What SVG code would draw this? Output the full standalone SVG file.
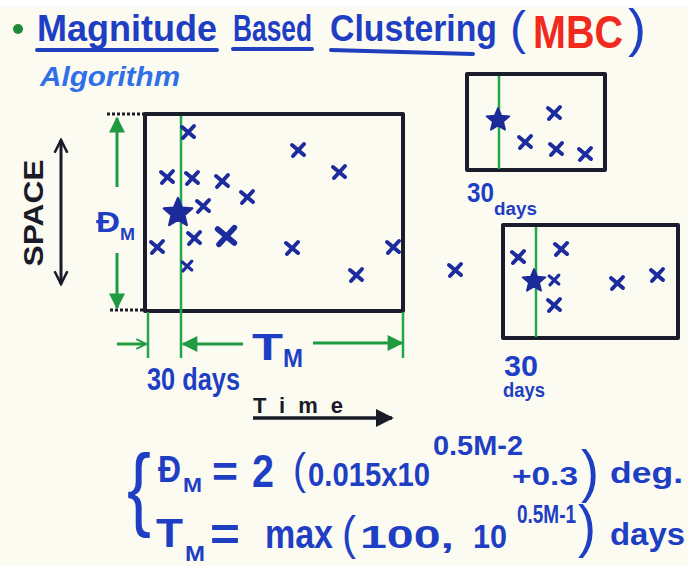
<svg xmlns="http://www.w3.org/2000/svg" xmlns:xlink="http://www.w3.org/1999/xlink" width="688" height="566" viewBox="0 0 688 566">
<style>
.t{font-family:"Liberation Sans",Arial,sans-serif;font-weight:bold}
.n{font-weight:normal}
.blue{fill:#1e3ec4}
.blk{fill:#1a1b28}
.box{fill:none;stroke:#1b1d2c;stroke-width:4;stroke-linejoin:round}
.g{stroke:#22a848;stroke-width:2.5;fill:none}
.gf{stroke:#1f9a40;stroke-width:3;fill:none}
.ul{stroke:#1f3fbf;stroke-width:4;stroke-linecap:round;fill:none}
</style>
<defs>
<path id="x" d="M-6,-5 L6,5 M6,-6 L-5,6" stroke="#1c2c9e" stroke-width="4" stroke-linecap="round" fill="none"/>
<polygon id="star" points="0,-1 0.265,-0.364 0.951,-0.309 0.428,0.139 0.588,0.809 0,0.45 -0.588,0.809 -0.428,0.139 -0.951,-0.309 -0.265,-0.364" fill="#1c2a9a" stroke="#1c2a9a" stroke-width="0.15" stroke-linejoin="round"/>
<marker id="gah2" viewBox="0 0 10 10" refX="9" refY="5" markerWidth="18" markerHeight="16" orient="auto-start-reverse" markerUnits="userSpaceOnUse">
<path d="M0,0 L10,5 L0,10 Z" fill="#1f9a40"/>
</marker>
<marker id="gopen" viewBox="0 0 10 10" refX="9" refY="5" markerWidth="12" markerHeight="14" orient="auto" markerUnits="userSpaceOnUse">
<path d="M1,1 L9,5 L1,9" fill="none" stroke="#1f9a40" stroke-width="1.6"/>
</marker>
<marker id="kopen" viewBox="0 0 10 10" refX="9" refY="5" markerWidth="16" markerHeight="20" orient="auto-start-reverse" markerUnits="userSpaceOnUse">
<path d="M1,1 L9,5 L1,9" fill="none" stroke="#1a1b28" stroke-width="1.6"/>
</marker>
<marker id="kah" viewBox="0 0 10 10" refX="9" refY="5" markerWidth="18" markerHeight="20" orient="auto" markerUnits="userSpaceOnUse">
<path d="M0,0 L10,5 L0,10 Z" fill="#1a1b28"/>
</marker>
</defs>

<rect x="0" y="0" width="688" height="566" fill="#fcfbf1"/>
<rect x="0" y="0" width="688" height="7" fill="#ffffff"/>

<g id="title">
<circle cx="18" cy="29" r="5" fill="#1f8a3a"/>
<text class="t blue" x="37" y="41" font-size="37" textLength="180" lengthAdjust="spacingAndGlyphs">Magnitude</text>
<text class="t blue" x="233" y="41" font-size="37" textLength="79" lengthAdjust="spacingAndGlyphs">Based</text>
<text class="t blue" x="330" y="41" font-size="37" textLength="167" lengthAdjust="spacingAndGlyphs">Clustering</text>
<text class="t n blue" x="510" y="44" font-size="46" textLength="16" lengthAdjust="spacingAndGlyphs">(</text>
<text class="t" x="533" y="48" font-size="46" fill="#f02a1c" textLength="90" lengthAdjust="spacingAndGlyphs">MBC</text>
<text class="t n blue" x="628" y="46" font-size="52" textLength="18" lengthAdjust="spacingAndGlyphs">)</text>
<path class="ul" d="M37,50 L217,50 M233,49 L312,49 M331,50 L473,54"/>
<text class="t" x="40" y="86" font-size="28" font-style="italic" fill="#2f6fe8" textLength="140" lengthAdjust="spacingAndGlyphs">Algorithm</text>
</g>

<g id="main-window">
<rect class="box" x="145" y="114" width="258" height="197"/>
<path d="M107,114 L145,114 M110,310 L145,310" stroke="#1b1d2c" stroke-width="3" stroke-dasharray="3,2"/>
<path class="g" d="M181,116 L181,358 M148,312 L148,358 M403,312 L403,358"/>
</g>

<g id="space-axis">
<text class="t blk" x="0" y="0" font-size="28" transform="translate(43,213) rotate(-90)" text-anchor="middle" textLength="107" lengthAdjust="spacingAndGlyphs">SPACE</text>
<line x1="61" y1="140" x2="61" y2="284" stroke="#1a1b28" stroke-width="3" marker-start="url(#kopen)" marker-end="url(#kopen)"/>
</g>

<g id="dm-label">
<line class="gf" x1="117" y1="187" x2="117" y2="118" marker-end="url(#gah2)"/>
<line class="gf" x1="117" y1="253" x2="117" y2="308" marker-end="url(#gah2)"/>
<text class="t blue" x="96" y="232" font-size="30" textLength="24" lengthAdjust="spacingAndGlyphs">Đ</text>
<text class="t blue" x="120" y="240" font-size="17" textLength="15" lengthAdjust="spacingAndGlyphs">M</text>
</g>

<g id="tm-label">
<line class="gf" x1="117" y1="344" x2="146" y2="344" marker-end="url(#gopen)"/>
<line class="gf" x1="243" y1="344" x2="183" y2="344" marker-end="url(#gah2)"/>
<line class="gf" x1="313" y1="343" x2="402" y2="343" marker-end="url(#gah2)"/>
<text class="t blue" x="252" y="360" font-size="37" textLength="31" lengthAdjust="spacingAndGlyphs">T</text>
<text class="t blue" x="283" y="367" font-size="25" textLength="20" lengthAdjust="spacingAndGlyphs">M</text>
<text class="t blue" x="147" y="390" font-size="31" textLength="93" lengthAdjust="spacingAndGlyphs">30 days</text>
</g>

<g id="time-axis">
<text class="t blk" x="253" y="413" font-size="22" textLength="90" lengthAdjust="spacing">Time</text>
<line x1="253" y1="418" x2="392" y2="418" stroke="#1a1b28" stroke-width="3.5" marker-end="url(#kah)"/>
</g>

<g id="events-main">
<use xlink:href="#star" href="#star" transform="translate(178,213) scale(15)"/>
<use xlink:href="#x" href="#x" transform="translate(188,132)"/>
<use xlink:href="#x" href="#x" transform="translate(298,150)"/>
<use xlink:href="#x" href="#x" transform="translate(339,172)"/>
<use xlink:href="#x" href="#x" transform="translate(167,177)"/>
<use xlink:href="#x" href="#x" transform="translate(192,178)"/>
<use xlink:href="#x" href="#x" transform="translate(222,181)"/>
<use xlink:href="#x" href="#x" transform="translate(247,197)"/>
<use xlink:href="#x" href="#x" transform="translate(203,206)"/>
<use xlink:href="#x" href="#x" transform="translate(194,238)"/>
<use xlink:href="#x" href="#x" transform="translate(226,236) scale(1.4)"/>
<use xlink:href="#x" href="#x" transform="translate(157,247)"/>
<use xlink:href="#x" href="#x" transform="translate(292,248)"/>
<use xlink:href="#x" href="#x" transform="translate(393,247)"/>
<use xlink:href="#x" href="#x" transform="translate(187,266) scale(0.8)"/>
<use xlink:href="#x" href="#x" transform="translate(356,275)"/>
<use xlink:href="#x" href="#x" transform="translate(455,270)"/>
</g>

<g id="window-top-right">
<rect class="box" x="467" y="74" width="138" height="96"/>
<line class="g" x1="499" y1="76" x2="499" y2="169"/>
<use xlink:href="#star" href="#star" transform="translate(498,120) scale(12)"/>
<use xlink:href="#x" href="#x" transform="translate(554,113)"/>
<use xlink:href="#x" href="#x" transform="translate(525,142)"/>
<use xlink:href="#x" href="#x" transform="translate(556,149)"/>
<use xlink:href="#x" href="#x" transform="translate(585,154)"/>
<text class="t blue" x="467" y="202" font-size="27" textLength="27" lengthAdjust="spacingAndGlyphs">30</text>
<text class="t blue" x="494" y="215" font-size="18" textLength="43" lengthAdjust="spacingAndGlyphs">days</text>
</g>

<g id="window-bottom-right">
<rect class="box" x="503" y="225" width="175" height="113"/>
<line class="g" x1="536" y1="227" x2="536" y2="337"/>
<use xlink:href="#star" href="#star" transform="translate(534,281) scale(12)"/>
<use xlink:href="#x" href="#x" transform="translate(518,257)"/>
<use xlink:href="#x" href="#x" transform="translate(561,249)"/>
<use xlink:href="#x" href="#x" transform="translate(554,280) scale(0.8)"/>
<use xlink:href="#x" href="#x" transform="translate(554,305)"/>
<use xlink:href="#x" href="#x" transform="translate(617,283)"/>
<use xlink:href="#x" href="#x" transform="translate(657,275)"/>
<text class="t blue" x="504" y="376" font-size="30" textLength="34" lengthAdjust="spacingAndGlyphs">30</text>
<text class="t blue" x="503" y="397" font-size="20" textLength="42" lengthAdjust="spacingAndGlyphs">days</text>
</g>

<g id="formulas">
<text class="t n blue" x="127" y="519" font-size="92" textLength="24" lengthAdjust="spacingAndGlyphs">{</text>
<text class="t blue" x="158" y="482" font-size="37" textLength="23" lengthAdjust="spacingAndGlyphs">Đ</text>
<text class="t blue" x="183" y="492" font-size="20" textLength="19" lengthAdjust="spacingAndGlyphs">M</text>
<text class="t blue" x="212" y="487" font-size="44" textLength="26" lengthAdjust="spacingAndGlyphs">=</text>
<text class="t blue" x="252" y="487" font-size="46" textLength="22" lengthAdjust="spacingAndGlyphs">2</text>
<text class="t n blue" x="293" y="484" font-size="45" textLength="13" lengthAdjust="spacingAndGlyphs">(</text>
<text class="t blue" x="308" y="486" font-size="33" textLength="122" lengthAdjust="spacingAndGlyphs">0.015x10</text>
<text class="t blue" x="433" y="455" font-size="28" textLength="90" lengthAdjust="spacingAndGlyphs">0.5M-2</text>
<text class="t blue" x="512" y="485" font-size="26" textLength="66" lengthAdjust="spacingAndGlyphs">+0.3</text>
<text class="t n blue" x="581" y="491" font-size="58" textLength="18" lengthAdjust="spacingAndGlyphs">)</text>
<text class="t blue" x="610" y="483" font-size="30" textLength="73" lengthAdjust="spacingAndGlyphs">deg.</text>

<text class="t blue" x="156" y="547" font-size="40" textLength="27" lengthAdjust="spacingAndGlyphs">T</text>
<text class="t blue" x="185" y="561" font-size="22" textLength="20" lengthAdjust="spacingAndGlyphs">M</text>
<text class="t blue" x="210" y="550" font-size="46" textLength="30" lengthAdjust="spacingAndGlyphs">=</text>
<text class="t blue" x="265" y="548" font-size="40" textLength="68" lengthAdjust="spacingAndGlyphs">max</text>
<text class="t n blue" x="342" y="549" font-size="46" textLength="14" lengthAdjust="spacingAndGlyphs">(</text>
<text class="t blue" x="360" y="548" font-size="32" textLength="94" lengthAdjust="spacingAndGlyphs">100,</text>
<text class="t blue" x="473" y="548" font-size="34" textLength="34" lengthAdjust="spacingAndGlyphs">10</text>
<text class="t blue" x="517" y="523" font-size="26" textLength="59" lengthAdjust="spacingAndGlyphs">0.5M-1</text>
<text class="t n blue" x="578" y="546" font-size="58" textLength="18" lengthAdjust="spacingAndGlyphs">)</text>
<text class="t blue" x="610" y="545" font-size="32" textLength="75" lengthAdjust="spacingAndGlyphs">days</text>
</g>
</svg>
